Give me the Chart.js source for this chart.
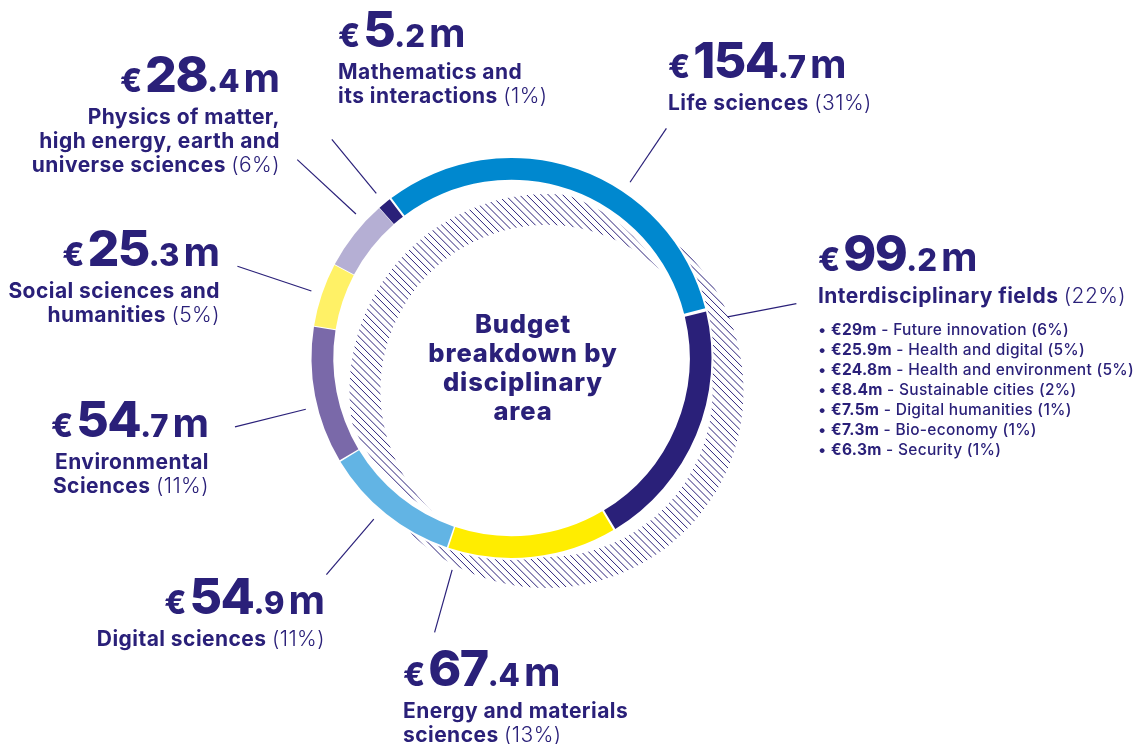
<!DOCTYPE html>
<html><head><meta charset="utf-8">
<script src="https://cdn.jsdelivr.net/npm/chart.js@4.4.1/dist/chart.umd.min.js"></script>
<style>
html,body{margin:0;padding:0;background:#fff;}
#wrap{position:relative;width:1136px;height:744px;overflow:hidden;font-family:Inter,'Noto Sans',sans-serif;color:#2a2079;}
#c{position:absolute;left:0;top:0;}
.blk{position:absolute;white-space:nowrap;}
.big{height:48px;line-height:48px;font-size:48px;font-weight:800;}
.big span{line-height:0;}
.eur{font-size:32px;font-weight:800;margin-right:3px;}
.int{font-size:50px;font-weight:800;letter-spacing:-1.5px;}
.dec{font-size:31px;font-weight:800;}
.unit{font-size:40px;font-weight:700;margin-left:4px;}
.lab{margin-top:6px;font-size:21px;line-height:24px;font-weight:700;letter-spacing:0.45px;}
.pct{font-weight:300;}
.list{margin-top:12px;font-size:15.5px;line-height:20px;font-weight:500;letter-spacing:0.3px;}
.list b{font-weight:700;}
#center{position:absolute;left:373px;width:300px;top:309px;text-align:center;font-size:25.5px;line-height:29px;font-weight:800;letter-spacing:0.9px;}
</style></head>
<body><div id="wrap"><canvas id="c" width="1136" height="744"></canvas><div id="labels"></div><div id="center">Budget<br>breakdown by<br>disciplinary<br>area</div></div>
<script>
// ---- data ----
const categories = ['Life sciences','Interdisciplinary fields','Energy and materials\nsciences','Digital sciences','Environmental\nSciences','Social sciences and\nhumanities','Physics of matter,\nhigh energy, earth and\nuniverse sciences','Mathematics and\nits interactions'];
const budgets = [154.7, 99.2, 67.4, 54.9, 54.7, 25.3, 28.4, 5.2];
const shares = [31, 22, 13, 11, 11, 5, 6, 1];
const interFields = ['Future innovation','Health and digital','Health and environment','Sustainable cities','Digital humanities','Bio-economy','Security'];
const interBudgets = [29, 25.9, 24.8, 8.4, 7.5, 7.3, 6.3];
const interShares = [6, 5, 5, 2, 1, 1, 1];
const colors = ['#0088cf','#2a2079','#ffed00','#62b4e4','#7a69a9','#fff166','#b5afd4','#2a2079'];
const navy = '#2a2079';

// ---- layout (annotation positions) ----
const labelLayout = [
  {x:668, align:'left', base:78},
  {x:818, align:'left', base:271},
  {x:403, align:'left', base:686},
  {x:325, align:'right', base:614},
  {x:209, align:'right', base:437},
  {x:220, align:'right', base:266},
  {x:280, align:'right', base:92},
  {x:338, align:'left', base:47}
];
// leader: preferred angle (deg from top, clockwise), start radius, length
const leaderLayout = [
  {a:34, r:212, len:65},
  {a:71, r:220, len:70},
  {a:198.7, r:220, len:65},
  {a:220.5, r:212, len:73},
  {a:256, r:212, len:73},
  {a:288.5, r:211, len:78},
  {a:312.8, r:212, len:80},
  {a:325, r:213, len:70}
];

// ---- labels (HTML text) ----
const labelsDiv = document.getElementById('labels');
categories.forEach((cat, i) => {
  const L = labelLayout[i];
  const d = document.createElement('div');
  d.className = 'blk';
  d.style.top = (L.base - 41.5) + 'px';
  d.style.textAlign = L.align;
  if (L.align === 'left') d.style.left = L.x + 'px'; else d.style.right = (1136 - L.x) + 'px';
  const parts = budgets[i].toFixed(1).split('.');
  let html = '<div class="big"><span class="eur">€</span><span class="int">' + parts[0] + '</span><span class="dec">.' + parts[1] + '</span><span class="unit">m</span></div>';
  const lines = cat.split('\n');
  html += '<div class="lab">' + lines.map((ln, k) => k === lines.length - 1 ? ln + ' <span class="pct">(' + shares[i] + '%)</span>' : ln).join('<br>') + '</div>';
  if (i === 1) {
    html += '<div class="list">' + interFields.map((f, k) => '• <b>€' + interBudgets[k] + 'm</b> - ' + f + ' (' + interShares[k] + '%)').join('<br>') + '</div>';
  }
  d.innerHTML = html;
  labelsDiv.appendChild(d);
});

// ---- plugin: hatched shadow ring, halo, leader lines ----
function annulus(ctx, cx, cy, r1, r2) {
  ctx.beginPath();
  ctx.arc(cx, cy, r2, 0, Math.PI * 2);
  ctx.arc(cx, cy, r1, Math.PI * 2, 0, true);
  ctx.closePath();
}
const decor = {
  id: 'decor',
  beforeDatasetsDraw(chart) {
    const arc = chart.getDatasetMeta(0).data[0];
    if (!arc) return;
    const ctx = chart.ctx;
    const cx = arc.x, cy = arc.y, ro = arc.outerRadius, ri = arc.innerRadius;
    const hx = cx + 35, hy = cy + 33, hro = ro - 1, hri = ri - 10;
    ctx.save();
    annulus(ctx, hx, hy, hri, hro);
    ctx.clip();
    ctx.strokeStyle = navy;
    ctx.lineWidth = 1;
    ctx.beginPath();
    const x0 = hx - hro - 10, y0 = hy - hro - 10, S = hro * 2 + 20;
    for (let k = -S; k <= S; k += 7.2) {
      ctx.moveTo(x0 + k, y0);
      ctx.lineTo(x0 + k + S, y0 + S);
    }
    ctx.stroke();
    ctx.restore();
    ctx.save();
    ctx.fillStyle = '#ffffff';
    annulus(ctx, cx, cy, ri - 4, ro + 4);
    ctx.fill('evenodd');
    ctx.restore();
  },
  afterDatasetsDraw(chart) {
    const meta = chart.getDatasetMeta(0);
    const ctx = chart.ctx;
    ctx.save();
    ctx.strokeStyle = navy;
    ctx.lineWidth = 1.2;
    meta.data.forEach((el, i) => {
      const L = leaderLayout[i];
      const s = (el.startAngle * 180 / Math.PI + 90 + 720) % 360;
      let e = (el.endAngle * 180 / Math.PI + 90 + 720) % 360;
      if (e < s) e += 360;
      const mid = (s + e) / 2;
      let a = L.a;
      while (a < mid - 180) a += 360;
      while (a >= mid + 180) a -= 360;
      const m = Math.min(3, (e - s) / 2);
      a = Math.max(s + m, Math.min(e - m, a));
      const t = a * Math.PI / 180;
      const dx = Math.sin(t), dy = -Math.cos(t);
      ctx.beginPath();
      ctx.moveTo(el.x + dx * L.r, el.y + dy * L.r);
      ctx.lineTo(el.x + dx * (L.r + L.len), el.y + dy * (L.r + L.len));
      ctx.stroke();
    });
    ctx.restore();
  }
};

new Chart(document.getElementById('c'), {
  type: 'doughnut',
  data: { labels: categories.map(c => c.replace(/\n/g, ' ')), datasets: [{ data: budgets, backgroundColor: colors, borderWidth: 0, spacing: 4, hoverOffset: 0 }] },
  options: {
    responsive: false, animation: false, events: [],
    rotation: -37.5, cutout: '89%',
    layout: { padding: { left: 311.5, right: 424.5, top: 158, bottom: 186 } },
    plugins: { legend: { display: false }, tooltip: { enabled: false } }
  },
  plugins: [decor]
});
</script>
</body></html>
